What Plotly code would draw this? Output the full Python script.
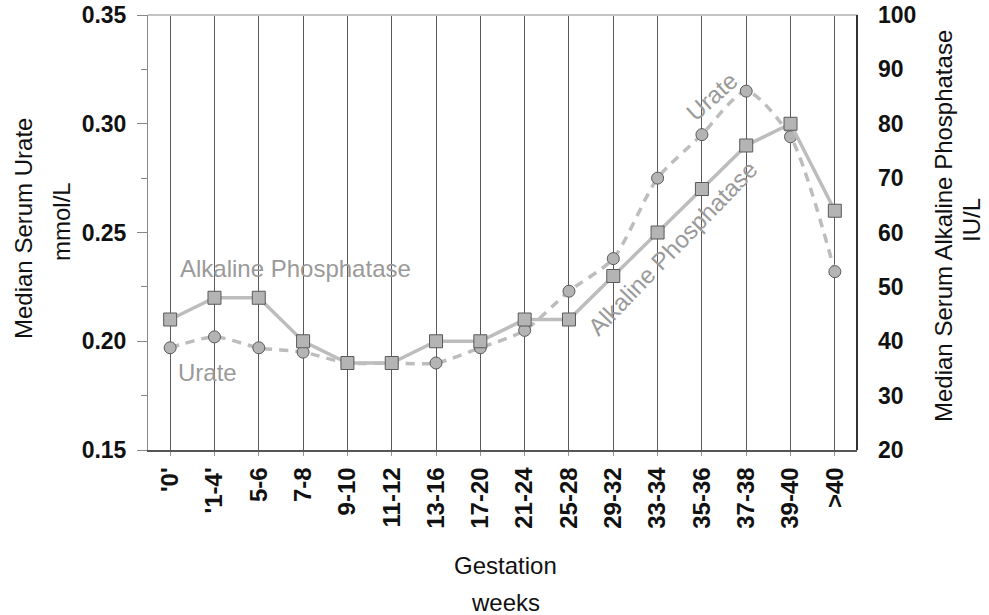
import plotly.graph_objects as go

# Gestation bands (weeks)
weeks = ["'0'", "'1-4'", "5-6", "7-8", "9-10", "11-12", "13-16", "17-20",
         "21-24", "25-28", "29-32", "33-34", "35-36", "37-38", "39-40", ">40"]

# Median serum alkaline phosphatase, IU/L (right axis)
alk_phos = [44, 48, 48, 40, 36, 36, 40, 40, 44, 44, 52, 60, 68, 76, 80, 64]

# Median serum urate, mmol/L (left axis)
urate = [0.197, 0.202, 0.197, 0.195, 0.190, 0.190, 0.190, 0.197,
         0.205, 0.223, 0.238, 0.275, 0.295, 0.315, 0.294, 0.232]

FONT = "Liberation Sans"
LINE_GREY = "#bdbdbd"
MARK_FILL = "#b4b4b4"
MARK_EDGE = "#5a5a5a"
LABEL_GREY = "#9a9a9a"

fig = go.Figure()

fig.add_trace(go.Scatter(
    x=weeks, y=alk_phos, yaxis="y2", mode="lines+markers",
    line=dict(color=LINE_GREY, width=3.5),
    marker=dict(symbol="square", size=13, color=MARK_FILL,
                line=dict(color=MARK_EDGE, width=1)),
    showlegend=False, hoverinfo="x+y",
))

fig.add_trace(go.Scatter(
    x=weeks, y=urate, yaxis="y", mode="lines+markers",
    line=dict(color=LINE_GREY, width=3.5, dash="9px,7px",
              shape="spline", smoothing=0.7),
    marker=dict(symbol="circle", size=12, color=MARK_FILL,
                line=dict(color=MARK_EDGE, width=1)),
    showlegend=False, hoverinfo="x+y",
))

# plot area in pixels
L, R, T, B = 148, 857, 15, 450
W, H = 989, 615


def px(x):
    return (x - L) / (R - L)


def py(y):
    return (B - y) / (B - T)


annotations = [
    # series labels
    dict(text="Alkaline Phosphatase", x=px(295), y=py(268), textangle=0,
         font=dict(size=24, color=LABEL_GREY)),
    dict(text="Urate", x=px(207), y=py(372), textangle=0,
         font=dict(size=24, color=LABEL_GREY)),
    dict(text="Urate", x=px(712), y=py(97), textangle=-42,
         font=dict(size=24, color=LABEL_GREY)),
    dict(text="Alkaline Phosphatase", x=px(672), y=py(248), textangle=-46,
         font=dict(size=24, color=LABEL_GREY)),
    # axis titles
    dict(text="Median Serum Urate", x=px(23), y=py(229), textangle=-90,
         font=dict(size=24, color="#111")),
    dict(text="mmol/L", x=px(62), y=py(222), textangle=-90,
         font=dict(size=24, color="#111")),
    dict(text="Median Serum Alkaline Phosphatase", x=px(943), y=py(226),
         textangle=-90, font=dict(size=24, color="#111")),
    dict(text="IU/L", x=px(971), y=py(220), textangle=-90,
         font=dict(size=24, color="#111")),
    dict(text="Gestation", x=px(505), y=py(565), textangle=0,
         font=dict(size=24, color="#111")),
    dict(text="weeks", x=px(505), y=py(602), textangle=0,
         font=dict(size=24, color="#111")),
]
for a in annotations:
    a.update(xref="paper", yref="paper", xanchor="center", yanchor="middle",
             showarrow=False)

fig.update_layout(
    width=W, height=H,
    margin=dict(l=L, r=W - R, t=T, b=H - B, pad=0, autoexpand=False),
    paper_bgcolor="white", plot_bgcolor="white",
    font=dict(family=FONT, color="#111"),
    annotations=annotations,
    xaxis=dict(
        type="category", categoryorder="array", categoryarray=weeks,
        range=[-0.5, len(weeks) - 0.5], automargin=False,
        showgrid=True, gridcolor="#5a5a5a", gridwidth=1,
        showline=True, linecolor="#555", linewidth=1.5,
        ticks="outside", ticklen=4, tickcolor="#999", tickwidth=1,
        tickangle=-90, ticklabelstandoff=2,
        tickfont=dict(size=24, weight="bold", color="#111"),
        zeroline=False, fixedrange=True,
    ),
    yaxis=dict(
        range=[0.15, 0.35], dtick=0.05, tickformat=".2f", automargin=False,
        showgrid=False, zeroline=False,
        showline=True, linecolor="#888", linewidth=1,
        ticks="outside", ticklen=10, tickcolor="#888", tickwidth=1,
        minor=dict(dtick=0.025, ticks="outside", ticklen=6,
                   tickcolor="#888", tickwidth=1),
        ticklabelstandoff=6,
        tickfont=dict(size=23, weight="bold", color="#111"),
        fixedrange=True,
    ),
    yaxis2=dict(
        range=[20, 100], dtick=10, overlaying="y", side="right",
        automargin=False,
        showgrid=False, zeroline=False, showline=False, ticks="",
        ticklabelstandoff=20,
        tickfont=dict(size=23, weight="bold", color="#111"),
        fixedrange=True,
    ),
    shapes=[
        dict(type="line", xref="paper", yref="paper", x0=0, x1=1, y0=1, y1=1,
             line=dict(color="#c4c4c4", width=2)),
        dict(type="line", xref="paper", yref="paper", x0=1, x1=1, y0=0, y1=1,
             line=dict(color="#333", width=2)),
    ],
)

fig.write_html("out.html")
